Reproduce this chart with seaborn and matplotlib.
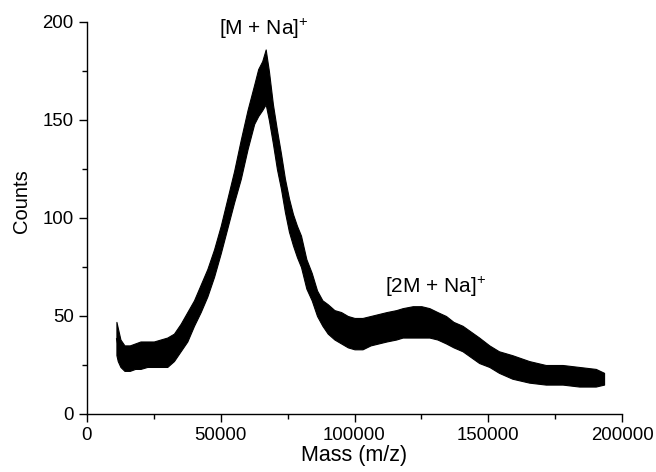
import numpy as np
import pandas as pd
import matplotlib
matplotlib.use("Agg")
import matplotlib.pyplot as plt
import seaborn as sns

# ---- data (envelope of the noisy spectrum) ----
mass_x = [11000, 11500, 12500, 14000, 16000, 18000, 20000, 22500, 25000, 27500,
          30000, 32500, 35000, 37500, 40000, 42500, 45000, 47500, 50000, 52500,
          55000, 57500, 60000, 62500, 64000, 65500, 66800, 68000, 69500, 71000,
          72500, 74000, 75500, 77000, 78500, 80000, 82000, 84000, 86000, 88000,
          90000, 92500, 95000, 97500, 100000, 103000, 106000, 109000, 112000, 115600,
          118000, 121800, 125000, 128000, 131000, 134200, 137000, 140400, 143500, 146600,
          150400, 154000, 159000, 165300, 171500, 177800, 184000, 190200, 193300]
counts_lower = [30, 27, 24, 22, 22, 23, 23, 24, 24, 24,
                24, 27, 32, 37, 45, 52, 60, 70, 82, 95,
                108, 120, 135, 148, 152, 155, 158, 150, 138, 125,
                115, 103, 93, 86, 80, 75, 64, 58, 50, 45,
                41, 38, 36, 34, 33, 33, 35, 36, 37, 38,
                39, 39, 39, 39, 38, 36, 34, 32, 29, 26,
                24, 21, 18, 16, 15, 15, 14, 14, 15]
counts_upper = [47, 44, 38, 35, 35, 36, 37, 37, 37, 38,
                39, 41, 46, 52, 58, 66, 74, 84, 96, 110,
                124, 140, 155, 168, 176, 180, 186, 175, 158, 145,
                133, 120, 110, 102, 96, 91, 79, 72, 63, 58,
                56, 53, 52, 50, 49, 49, 50, 51, 52, 53,
                54, 55, 55, 54, 52, 50, 47, 45, 42, 39,
                35, 32, 30, 27, 25, 25, 24, 23, 21]

x_ticks = [0, 50000, 100000, 150000, 200000]
y_ticks = [0, 50, 100, 150, 200]
peak_labels = [r"[M + Na]$^{+}$", r"[2M + Na]$^{+}$"]
peak_label_x = [66000, 130200]
peak_label_y = [193.5, 61.5]

# long-form table: two rows per mass (lower / upper edge of the noise band)
df = pd.DataFrame({
    "Mass": mass_x + mass_x,
    "Counts": counts_lower + counts_upper,
})

sns.set_style("ticks")
plt.rcParams["font.family"] = ["Liberation Sans", "DejaVu Sans"]
plt.rcParams["mathtext.fontset"] = "custom"
plt.rcParams["mathtext.rm"] = "Liberation Sans"
plt.rcParams["mathtext.it"] = "Liberation Sans"
plt.rcParams["mathtext.bf"] = "Liberation Sans"

fig, ax = plt.subplots(figsize=(6.56, 4.72), dpi=100)
fig.subplots_adjust(left=87 / 656, right=622 / 656, bottom=58 / 472, top=450 / 472)

sns.lineplot(data=df, x="Mass", y="Counts", estimator="mean",
             errorbar=("pi", 100), color="black", linewidth=0.8,
             err_kws={"alpha": 1.0, "linewidth": 0.8, "edgecolor": "black"},
             ax=ax)

for txt, tx, ty in zip(peak_labels, peak_label_x, peak_label_y):
    ax.text(tx, ty, txt, ha="center", va="baseline", fontsize=15, color="black")

ax.set_xlim(0, 200000)
ax.set_ylim(0, 200)
ax.set_xticks(x_ticks)
ax.set_xticklabels([str(v) for v in x_ticks])
ax.set_yticks(y_ticks)
ax.set_yticklabels([str(v) for v in y_ticks])
ax.set_xticks([25000, 75000, 125000, 175000], minor=True)
ax.set_yticks([25, 75, 125, 175], minor=True)
ax.tick_params(axis="both", which="major", direction="out", length=5.5, width=1.0,
               labelsize=13.4, pad=4, color="black", labelcolor="black")
ax.tick_params(axis="both", which="minor", direction="out", length=3.5, width=1.0,
               color="black")
ax.set_xlabel("Mass (m/z)", fontsize=15.5, color="black")
ax.set_ylabel("Counts", fontsize=14.5, color="black")
ax.xaxis.set_label_coords(0.5, -0.078)
ax.yaxis.set_label_coords(-0.104, 0.543)

sns.despine(ax=ax)
for s in ("left", "bottom"):
    ax.spines[s].set_linewidth(1.0)
    ax.spines[s].set_color("black")

fig.savefig("out.png", dpi=100)
